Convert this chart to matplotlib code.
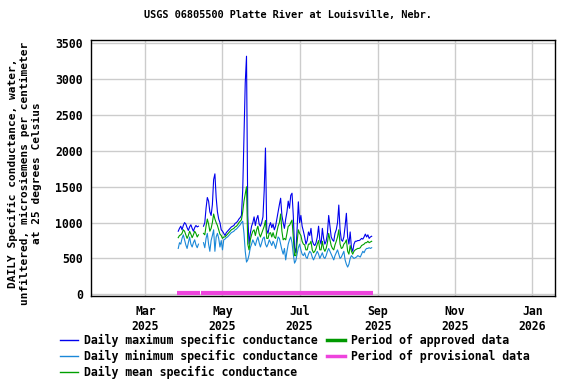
import numpy as np
import pandas as pd
import matplotlib
matplotlib.use("Agg")
import matplotlib.pyplot as plt
import matplotlib.dates as mdates
from matplotlib.lines import Line2D

# ----------------------------
# Data
# ----------------------------
# segment 1: Mar 27 - Apr 12 2025, segment 2: Apr 16 - Aug 27 2025
seg1_start = "2025-03-27"
seg2_start = "2025-04-16"

max_seg1 = [880, 920, 950, 900, 960, 1000, 980, 930, 890, 940, 970, 920, 880, 930, 960, 940, 950]
min_seg1 = [640, 720, 700, 780, 830, 760, 690, 640, 720, 800, 700, 660, 720, 760, 690, 650, 700]
mean_seg1 = [790, 820, 830, 850, 900, 880, 830, 780, 820, 880, 840, 790, 830, 880, 850, 800, 830]

max_seg2 = [
    950, 1000, 1200, 1350, 1300, 1150, 1100, 1250, 1600, 1680, 1350, 1150, 1050, 1000, 900,   # Apr 16-30
    880, 850, 820, 860, 880, 900, 920, 940, 950, 960, 990, 1000, 1020, 1050, 1070, 1100,      # May 1-16
    1450, 2200, 2950, 3320, 1100, 700, 850, 950, 1000, 1080, 960, 1050, 1100, 980, 950,        # May 17-31
    1000, 1080, 1450, 2040, 900, 850, 950, 1000, 930, 980, 900, 950, 1050, 1150, 1250,         # Jun 1-15
    1340, 1100, 1000, 920, 1050, 1150, 1300, 1200, 1380, 1410, 1100, 650, 580, 900, 1290,      # Jun 16-30
    1000, 1100, 950, 880, 800, 700, 750, 870, 820, 920, 750, 700, 680, 720, 800, 950,          # Jul 1-16
    760, 700, 920, 780, 700, 740, 850, 1100, 950, 800, 760, 740, 850, 900, 1000,               # Jul 17-31
    1245, 900, 760, 740, 800, 950, 1130, 800, 700, 870, 650, 600, 700, 740, 740, 750,          # Aug 1-16
    750, 760, 780, 770, 800, 840, 800, 830, 780, 800, 810,                                     # Aug 17-27
]
min_seg2 = [
    720, 650, 780, 850, 700, 600, 750, 820, 900, 600, 800, 850, 780, 660, 750,
    620, 760, 770, 790, 800, 820, 840, 860, 870, 880, 900, 910, 930, 950, 970, 1000,
    1020, 850, 600, 450, 480, 550, 650, 700, 760, 720, 680, 750, 800, 720, 660,
    720, 780, 800, 700, 660, 700, 760, 720, 680, 740, 700, 640, 720, 800, 780,
    700, 620, 560, 640, 480, 600, 700, 760, 800, 720, 560, 435, 470, 560, 650,
    700, 620, 560, 540, 580, 520, 500, 560, 600, 580, 520, 480, 520, 560, 600, 560,
    500, 540, 580, 520, 500, 540, 600, 640, 600, 560, 520, 480, 540, 580, 620,
    560, 500, 520, 560, 600, 480, 420, 380, 420, 500, 540, 520, 500, 510, 520, 540,
    530, 520, 560, 600, 580, 620, 640, 640, 650, 640, 650,
]
mean_seg2 = [
    850, 830, 950, 1050, 980, 880, 920, 1000, 1120, 1050, 1000, 960, 900, 840, 820,
    780, 800, 800, 820, 840, 860, 880, 900, 910, 920, 940, 950, 970, 1000, 1020, 1040,
    1150, 1300, 1400, 1500, 700, 620, 760, 830, 880, 900, 820, 900, 950, 850, 800,
    850, 900, 950, 1030, 780, 780, 850, 860, 800, 860, 800, 780, 870, 950, 1000,
    1120, 880, 760, 780, 760, 850, 950, 960, 1000, 1035, 800, 540, 540, 720, 900,
    850, 820, 740, 700, 690, 620, 620, 700, 700, 740, 620, 580, 600, 640, 700, 750,
    620, 620, 740, 640, 600, 640, 720, 850, 760, 680, 640, 620, 690, 740, 800,
    900, 700, 640, 650, 700, 720, 760, 600, 560, 680, 600, 560, 600, 620, 630, 640,
    640, 650, 680, 690, 700, 720, 720, 740, 720, 730, 740,
]

# provisional data periods (bar along the bottom)
prov_periods = [("2025-03-26", "2025-04-13"), ("2025-04-14", "2025-08-28")]

dates1 = pd.date_range(seg1_start, periods=len(max_seg1), freq="D")
dates2 = pd.date_range(seg2_start, periods=len(max_seg2), freq="D")

# ----------------------------
# Plot
# ----------------------------
c_max = "#0000ee"
c_min = "#1a88d8"
c_mean = "#00a000"
c_appr = "#009900"
c_prov = "#ee44dd"

plt.rcParams["font.family"] = "DejaVu Sans Mono"
plt.rcParams["font.weight"] = "bold"

fig = plt.figure(figsize=(5.76, 3.84), dpi=100)
ax = fig.add_axes([0.158, 0.229, 0.8055, 0.667])

for d, mx, mn, me in [(dates1, max_seg1, min_seg1, mean_seg1),
                      (dates2, max_seg2, min_seg2, mean_seg2)]:
    ax.plot(d, mx, color=c_max, lw=0.8)
    ax.plot(d, mn, color=c_min, lw=0.8)
    ax.plot(d, me, color=c_mean, lw=0.8)

for s, e in prov_periods:
    ax.plot([pd.Timestamp(s), pd.Timestamp(e)], [15, 15], color=c_prov, lw=3.0,
            solid_capstyle="butt")

ax.set_xlim(pd.Timestamp("2025-01-17"), pd.Timestamp("2026-01-19"))
ax.set_ylim(-24, 3547)
ax.set_yticks(np.arange(0, 3501, 500))
ax.xaxis.set_major_locator(mdates.MonthLocator(bymonth=[1, 3, 5, 7, 9, 11]))
ax.xaxis.set_major_formatter(mdates.DateFormatter("%b\n%Y"))

ax.grid(True, color="#cccccc", lw=1.0)
ax.set_axisbelow(True)
ax.tick_params(axis="both", length=0, labelsize=8.3)
ax.tick_params(axis="x", pad=6.5)
ax.tick_params(axis="y", pad=6)
for sp in ax.spines.values():
    sp.set_linewidth(1.0)

fig.text(25 / 576, 0.549,
         "DAILY Specific conductance, water,\nunfiltered, microsiemens per centimeter\nat 25 degrees Celsius",
         rotation=90, ha="center", va="center", multialignment="center",
         fontsize=8.0, fontweight="bold")
fig.text(0.5, 0.961, "USGS 06805500 Platte River at Louisville, Nebr.",
         ha="center", va="center", fontsize=7.4, fontweight="bold")

# ----------------------------
# Legend
# ----------------------------
handles = [
    Line2D([], [], color=c_max, lw=1.0),
    Line2D([], [], color=c_min, lw=1.0),
    Line2D([], [], color=c_mean, lw=1.0),
    Line2D([], [], color=c_appr, lw=2.5),
    Line2D([], [], color=c_prov, lw=2.5),
]
labels = [
    "Daily maximum specific conductance",
    "Daily minimum specific conductance",
    "Daily mean specific conductance",
    "Period of approved data",
    "Period of provisional data",
]
fig.legend(handles, labels, ncol=2, loc="upper left", bbox_to_anchor=(0.104, 0.131),
           frameon=False, fontsize=8.3, handlelength=1.55, handletextpad=0.5,
           columnspacing=0.85, labelspacing=0.28, borderaxespad=0, borderpad=0)

fig.savefig("out.png", dpi=100)
